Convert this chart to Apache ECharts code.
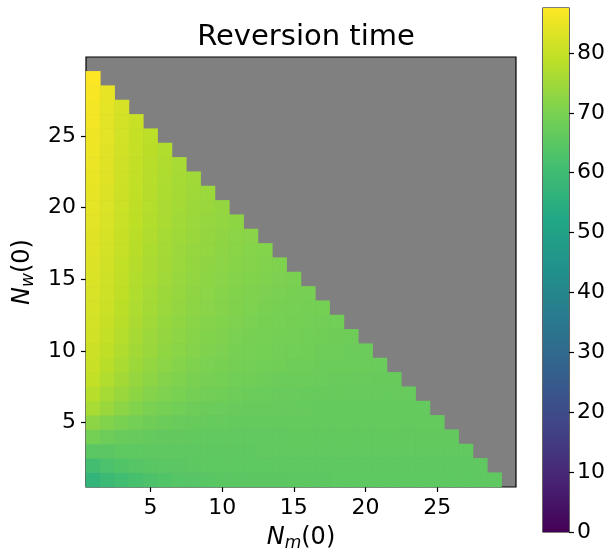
<!DOCTYPE html>
<html>
<head>
<meta charset="utf-8">
<script src="https://cdn.jsdelivr.net/npm/echarts@6/dist/echarts.min.js"></script>
<style>
  html, body { margin: 0; padding: 0; background: #fff; }
  #chart { width: 613px; height: 549px; }
</style>
</head>
<body>
<div id="chart"></div>
<script>
// Initial populations on each axis
const nmValues = [1,2,3,4,5,6,7,8,9,10,11,12,13,14,15,16,17,18,19,20,21,22,23,24,25,26,27,28,29,30];
const nwValues = [1,2,3,4,5,6,7,8,9,10,11,12,13,14,15,16,17,18,19,20,21,22,23,24,25,26,27,28,29,30];
const axisTickValues = [5, 10, 15, 20, 25];
const colorbarTickValues = [0, 10, 20, 30, 40, 50, 60, 70, 80];
const colorMin = 0;
const colorMax = 87.5;

// Reversion time, one row per N_w(0); entries run over N_m(0) = 1, 2, ...
const timeNw01 = [57.0, 59.0, 60.6, 61.8, 62.8, 63.5, 64.0, 64.4, 64.7, 64.9, 65.0, 65.1, 65.2, 65.2, 65.3, 65.3, 65.3, 65.4, 65.4, 65.4, 65.4, 65.5, 65.5, 65.5, 65.5, 65.5, 65.5, 65.6, 65.6];
const timeNw02 = [61.0, 62.5, 63.5, 64.2, 64.7, 65.0, 65.2, 65.3, 65.4, 65.4, 65.5, 65.5, 65.5, 65.6, 65.6, 65.6, 65.6, 65.6, 65.7, 65.7, 65.7, 65.7, 65.7, 65.7, 65.8, 65.8, 65.8, 65.8];
const timeNw03 = [65.0, 65.2, 65.4, 65.5, 65.6, 65.6, 65.7, 65.7, 65.8, 65.8, 65.8, 65.8, 65.9, 65.9, 65.9, 65.9, 65.9, 65.9, 65.9, 66.0, 66.0, 66.0, 66.0, 66.0, 66.0, 66.0, 66.0];
const timeNw04 = [69.0, 68.0, 67.3, 66.8, 66.5, 66.3, 66.2, 66.1, 66.0, 66.0, 66.0, 66.0, 66.0, 66.0, 66.1, 66.1, 66.1, 66.1, 66.1, 66.1, 66.1, 66.2, 66.2, 66.2, 66.2, 66.2];
const timeNw05 = [72.5, 71.0, 69.8, 68.9, 68.2, 67.7, 67.3, 67.0, 66.8, 66.7, 66.6, 66.5, 66.5, 66.4, 66.4, 66.4, 66.4, 66.4, 66.4, 66.4, 66.4, 66.4, 66.4, 66.4, 66.4];
const timeNw06 = [76.0, 74.0, 72.3, 71.0, 70.0, 69.2, 68.6, 68.1, 67.7, 67.4, 67.2, 67.0, 66.9, 66.8, 66.7, 66.7, 66.6, 66.6, 66.6, 66.6, 66.6, 66.6, 66.6, 66.6];
const timeNw07 = [78.0, 75.8, 74.0, 72.6, 71.4, 70.5, 69.8, 69.2, 68.7, 68.3, 67.9, 67.6, 67.4, 67.2, 67.1, 67.0, 66.9, 66.9, 66.8, 66.8, 66.8, 66.8, 66.8];
const timeNw08 = [79.3, 77.2, 75.2, 73.7, 72.5, 71.5, 70.7, 70.0, 69.5, 69.0, 68.6, 68.3, 68.0, 67.8, 67.6, 67.5, 67.4, 67.3, 67.2, 67.1, 67.0, 67.0];
const timeNw09 = [80.2, 78.2, 76.2, 74.6, 73.3, 72.3, 71.4, 70.7, 70.1, 69.6, 69.2, 68.9, 68.6, 68.3, 68.1, 67.9, 67.8, 67.7, 67.6, 67.5, 67.4];
const timeNw10 = [80.8, 79.0, 77.0, 75.3, 74.0, 72.9, 72.0, 71.3, 70.7, 70.2, 69.7, 69.3, 69.0, 68.7, 68.5, 68.3, 68.1, 67.9, 67.8, 67.7];
const timeNw11 = [81.3, 79.6, 77.6, 75.9, 74.5, 73.4, 72.5, 71.7, 71.1, 70.6, 70.1, 69.7, 69.3, 69.0, 68.8, 68.6, 68.4, 68.2, 68.0];
const timeNw12 = [81.7, 80.1, 78.1, 76.4, 75.0, 73.8, 72.9, 72.1, 71.5, 71.0, 70.5, 70.1, 69.7, 69.4, 69.1, 68.9, 68.7, 68.5];
const timeNw13 = [82.1, 80.5, 78.5, 76.8, 75.4, 74.2, 73.3, 72.5, 71.9, 71.3, 70.8, 70.4, 70.0, 69.7, 69.4, 69.2, 69.0];
const timeNw14 = [82.4, 80.9, 78.9, 77.2, 75.8, 74.6, 73.6, 72.8, 72.2, 71.6, 71.1, 70.7, 70.3, 70.0, 69.7, 69.5];
const timeNw15 = [82.7, 81.2, 79.2, 77.5, 76.1, 74.9, 73.9, 73.1, 72.5, 71.9, 71.4, 71.0, 70.6, 70.3, 70.0];
const timeNw16 = [83.0, 81.5, 79.5, 77.8, 76.4, 75.2, 74.2, 73.4, 72.8, 72.2, 71.7, 71.3, 70.9, 70.6];
const timeNw17 = [83.3, 81.8, 79.8, 78.1, 76.7, 75.5, 74.5, 73.7, 73.1, 72.5, 72.0, 71.6, 71.2];
const timeNw18 = [83.6, 82.1, 80.1, 78.4, 77.0, 75.8, 74.8, 74.0, 73.4, 72.8, 72.3, 71.9];
const timeNw19 = [83.9, 82.4, 80.4, 78.7, 77.3, 76.1, 75.1, 74.3, 73.7, 73.1, 72.6];
const timeNw20 = [84.2, 82.7, 80.6, 79.0, 77.6, 76.4, 75.4, 74.6, 74.0, 73.4];
const timeNw21 = [84.5, 83.0, 80.8, 79.2, 77.8, 76.6, 75.6, 74.8, 74.2];
const timeNw22 = [84.8, 83.2, 81.0, 79.4, 78.0, 76.8, 75.8, 75.0];
const timeNw23 = [85.1, 83.4, 81.2, 79.6, 78.2, 77.0, 76.0];
const timeNw24 = [85.4, 83.6, 81.4, 79.8, 78.4, 77.2];
const timeNw25 = [85.7, 83.8, 81.6, 80.0, 78.6];
const timeNw26 = [86.0, 84.0, 81.8, 80.2];
const timeNw27 = [86.4, 84.2, 82.0];
const timeNw28 = [86.8, 84.5];
const timeNw29 = [87.5];

const timeRows = [timeNw01, timeNw02, timeNw03, timeNw04, timeNw05, timeNw06, timeNw07, timeNw08,
  timeNw09, timeNw10, timeNw11, timeNw12, timeNw13, timeNw14, timeNw15, timeNw16, timeNw17,
  timeNw18, timeNw19, timeNw20, timeNw21, timeNw22, timeNw23, timeNw24, timeNw25, timeNw26,
  timeNw27, timeNw28, timeNw29];

// Viridis colour ramp
const viridis = ['#440154', '#482475', '#414487', '#355f8d', '#2a788e', '#21918c',
  '#22a884', '#44bf70', '#7ad151', '#bddf26', '#fde725'];

const heatData = [];
timeRows.forEach((row, yi) => {
  row.forEach((v, xi) => heatData.push([xi, yi, v]));
});

const FONT = 'DejaVu Sans';
const isTick = (idx) => axisTickValues.indexOf(idx + 1) !== -1;

const nameRich = {
  i: { fontFamily: FONT, fontSize: 24, fontStyle: 'italic', color: '#000' },
  s: { fontFamily: FONT, fontSize: 17, fontStyle: 'italic', color: '#000', padding: [12, 0, 0, 0] },
  n: { fontFamily: FONT, fontSize: 24, color: '#000' }
};

const chart = echarts.init(document.getElementById('chart'), null, { renderer: 'canvas' });

chart.setOption({
  animation: false,
  backgroundColor: '#ffffff',
  textStyle: { fontFamily: FONT },
  title: {
    text: 'Reversion time',
    left: 301,
    top: 18,
    textAlign: 'center',
    textStyle: { fontFamily: FONT, fontSize: 29, fontWeight: 'normal', color: '#000' }
  },
  grid: [
    { left: 86, top: 57, width: 430, height: 430, show: true, containLabel: false,
      outerBoundsMode: 'none',
      backgroundColor: '#808080', borderColor: '#000', borderWidth: 1.2 },
    { left: 543, top: 8, width: 26, height: 524, show: true, containLabel: false,
      outerBoundsMode: 'none',
      backgroundColor: 'transparent', borderColor: '#000', borderWidth: 1.2 }
  ],
  xAxis: [
    {
      type: 'category', gridIndex: 0, data: nmValues.map(String),
      name: '{i|N}{s|m}{n|(0)}', nameLocation: 'middle', nameGap: 36,
      nameTextStyle: { rich: nameRich },
      axisLine: { show: false },
      axisTick: { show: true, interval: (idx) => isTick(idx), alignWithLabel: true, length: 5,
        lineStyle: { color: '#000', width: 1.2 } },
      axisLabel: { interval: (idx) => isTick(idx), fontSize: 22, color: '#000', margin: 10 },
      splitLine: { show: false }
    },
    {
      type: 'category', gridIndex: 1, data: ['c'], show: false
    }
  ],
  yAxis: [
    {
      type: 'category', gridIndex: 0, data: nwValues.map(String),
      name: '{i|N}{s|w}{n|(0)}', nameLocation: 'middle', nameGap: 45, nameRotate: 90,
      nameTextStyle: { rich: nameRich },
      axisLine: { show: false },
      axisTick: { show: true, interval: (idx) => isTick(idx), alignWithLabel: true, length: 5,
        lineStyle: { color: '#000', width: 1.2 } },
      axisLabel: { interval: (idx) => isTick(idx), fontSize: 22, color: '#000', margin: 10 },
      splitLine: { show: false }
    },
    {
      type: 'value', gridIndex: 1, min: colorMin, max: colorMax, interval: 10,
      position: 'right',
      axisLine: { show: false },
      axisTick: { show: true, length: 5, lineStyle: { color: '#000', width: 1.2 } },
      axisLabel: { fontSize: 22, color: '#000', margin: 8, showMaxLabel: false,
        formatter: (v) => colorbarTickValues.indexOf(v) !== -1 ? String(v) : '' },
      splitLine: { show: false }
    }
  ],
  visualMap: {
    type: 'continuous', show: false, seriesIndex: 0, dimension: 2,
    min: colorMin, max: colorMax,
    inRange: { color: viridis }
  },
  series: [
    {
      type: 'heatmap', xAxisIndex: 0, yAxisIndex: 0, data: heatData,
      itemStyle: { borderWidth: 0 },
      emphasis: { disabled: true },
      progressive: 0
    },
    {
      type: 'bar', xAxisIndex: 1, yAxisIndex: 1, data: [colorMax],
      barWidth: '100%', silent: true,
      itemStyle: {
        color: new echarts.graphic.LinearGradient(0, 1, 0, 0,
          viridis.map((c, i) => ({ offset: i / (viridis.length - 1), color: c })))
      }
    }
  ]
});
</script>
</body>
</html>
